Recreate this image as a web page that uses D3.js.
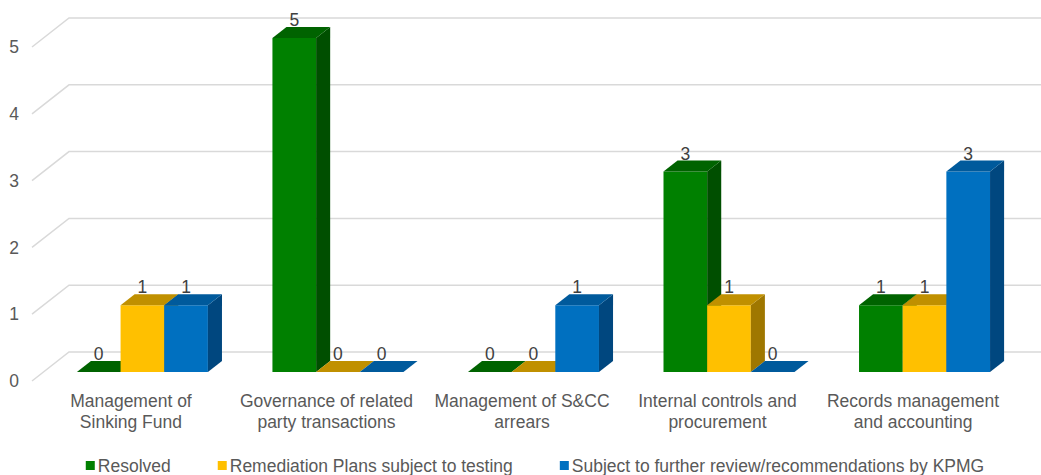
<!DOCTYPE html>
<html>
<head>
<meta charset="utf-8">
<script src="https://cdn.jsdelivr.net/npm/d3@7"></script>
<style>
  body { margin: 0; background: #fff; }
  svg { display: block; font-family: "Liberation Sans", Arial, sans-serif; }
</style>
</head>
<body>
<svg width="1041" height="475"></svg>
<script>
// chart values
var categories = ["Management of\nSinking Fund", "Governance of related\nparty transactions",
  "Management of S&CC\narrears", "Internal controls and\nprocurement", "Records management\nand accounting"];
var seriesNames = ["Resolved", "Remediation Plans subject to testing",
  "Subject to further review/recommendations by KPMG"];
var resolved = [0, 5, 0, 3, 1];
var remediation = [1, 0, 0, 1, 1];
var furtherReview = [1, 0, 1, 0, 3];
var yTicks = [0, 1, 2, 3, 4, 5];

var seriesValues = [resolved, remediation, furtherReview];
// front, top, side colours for each series
var faceColors = [
  ["#008000", "#006300", "#004f00"],
  ["#ffc000", "#c09000", "#9f7700"],
  ["#0070c0", "#005a9c", "#00477f"]
];

// 3d frame: front-left floor corner, depth vector
var frontX = 32, frontY = 381;
var depthX = 37, depthY = 29;
var wallWidth = 980;
var barT1 = 0.31, barT2 = 0.69; // bar depth inside floor
var fontSize = "17.5px";

var svg = d3.select("svg");

var xScale = d3.scaleBand().domain(d3.range(categories.length))
  .range([0, wallWidth]).paddingInner(0.33).paddingOuter(0.171);
var xSub = d3.scaleBand().domain(d3.range(seriesNames.length)).range([0, xScale.bandwidth()]);
var yScale = d3.scaleLinear().domain([0, 5]).range([0, 334]);

// projection: x along wall, t depth (0 front..1 back), v value
function px(x, t) { return frontX + x + depthX * t; }
function py(t, v) { return frontY - depthY * t - yScale(v); }
function poly(pts) { return pts.map(function(p) { return p.join(","); }).join(" "); }

// gridlines: diagonal on the left side wall then along back wall
var grid = svg.append("g");
yTicks.forEach(function(v) {
  grid.append("polyline")
    .attr("points", poly([[px(0, 0), py(0, v)], [px(0, 1), py(1, v)], [1041, py(1, v)]]))
    .attr("fill", "none")
    .attr("stroke", "#d9d9d9")
    .attr("stroke-width", 1.5);
});

// y tick labels
svg.append("g").selectAll("text").data(yTicks).enter().append("text")
  .attr("x", 19)
  .attr("y", function(d) { return py(0, d); })
  .attr("dy", "0.35em")
  .attr("text-anchor", "end")
  .attr("fill", "#595959")
  .style("font-size", fontSize)
  .text(function(d) { return d; });

// bars, left to right
var bars = svg.append("g");
var labels = svg.append("g");
categories.forEach(function(c, i) {
  seriesNames.forEach(function(s, j) {
    var v = seriesValues[j][i];
    var x0 = xScale(i) + xSub(j), x1 = x0 + xSub.bandwidth();
    var col = faceColors[j];
    if (v > 0) {
      bars.append("polygon")
        .attr("points", poly([[px(x0, barT1), py(barT1, 0)], [px(x1, barT1), py(barT1, 0)],
          [px(x1, barT1), py(barT1, v)], [px(x0, barT1), py(barT1, v)]]))
        .attr("fill", col[0]);
      bars.append("polygon")
        .attr("points", poly([[px(x1, barT1), py(barT1, 0)], [px(x1, barT2), py(barT2, 0)],
          [px(x1, barT2), py(barT2, v)], [px(x1, barT1), py(barT1, v)]]))
        .attr("fill", col[2]);
    }
    bars.append("polygon")
      .attr("points", poly([[px(x0, barT1), py(barT1, v)], [px(x1, barT1), py(barT1, v)],
        [px(x1, barT2), py(barT2, v)], [px(x0, barT2), py(barT2, v)]]))
      .attr("fill", col[1]);

    labels.append("text")
      .attr("x", px((x0 + x1) / 2, barT1))
      .attr("y", py(barT2, v) - 1)
      .attr("text-anchor", "middle")
      .attr("fill", "#404040")
      .style("font-size", fontSize)
      .text(v);
  });
});

// category labels, centred on the front edge
var catText = svg.append("g").selectAll("text").data(categories).enter().append("text")
  .attr("text-anchor", "middle")
  .attr("fill", "#595959")
  .style("font-size", fontSize);
catText.each(function(d, i) {
  var t = d3.select(this);
  var cx = px(xScale(i) + xScale.bandwidth() / 2, 0);
  d.split("\n").forEach(function(line, k) {
    t.append("tspan").attr("x", cx).attr("y", 407 + k * 21).text(line);
  });
});

// legend
var legend = svg.append("g");
var items = legend.selectAll("g").data(seriesNames).enter().append("g");
items.append("rect")
  .attr("y", 461).attr("width", 9).attr("height", 9)
  .attr("fill", function(d, j) { return faceColors[j][0]; });
items.append("text")
  .attr("x", 12).attr("y", 472)
  .attr("fill", "#595959")
  .style("font-size", fontSize)
  .text(function(d) { return d; });
var widths = [];
items.each(function() { widths.push(12 + d3.select(this).select("text").node().getComputedTextLength()); });
var gap = 47;
var total = d3.sum(widths) + gap * (widths.length - 1);
var lx = 535 - total / 2;
items.each(function(d, j) {
  d3.select(this).attr("transform", "translate(" + lx + ",0)");
  lx += widths[j] + gap;
});
</script>
</body>
</html>
